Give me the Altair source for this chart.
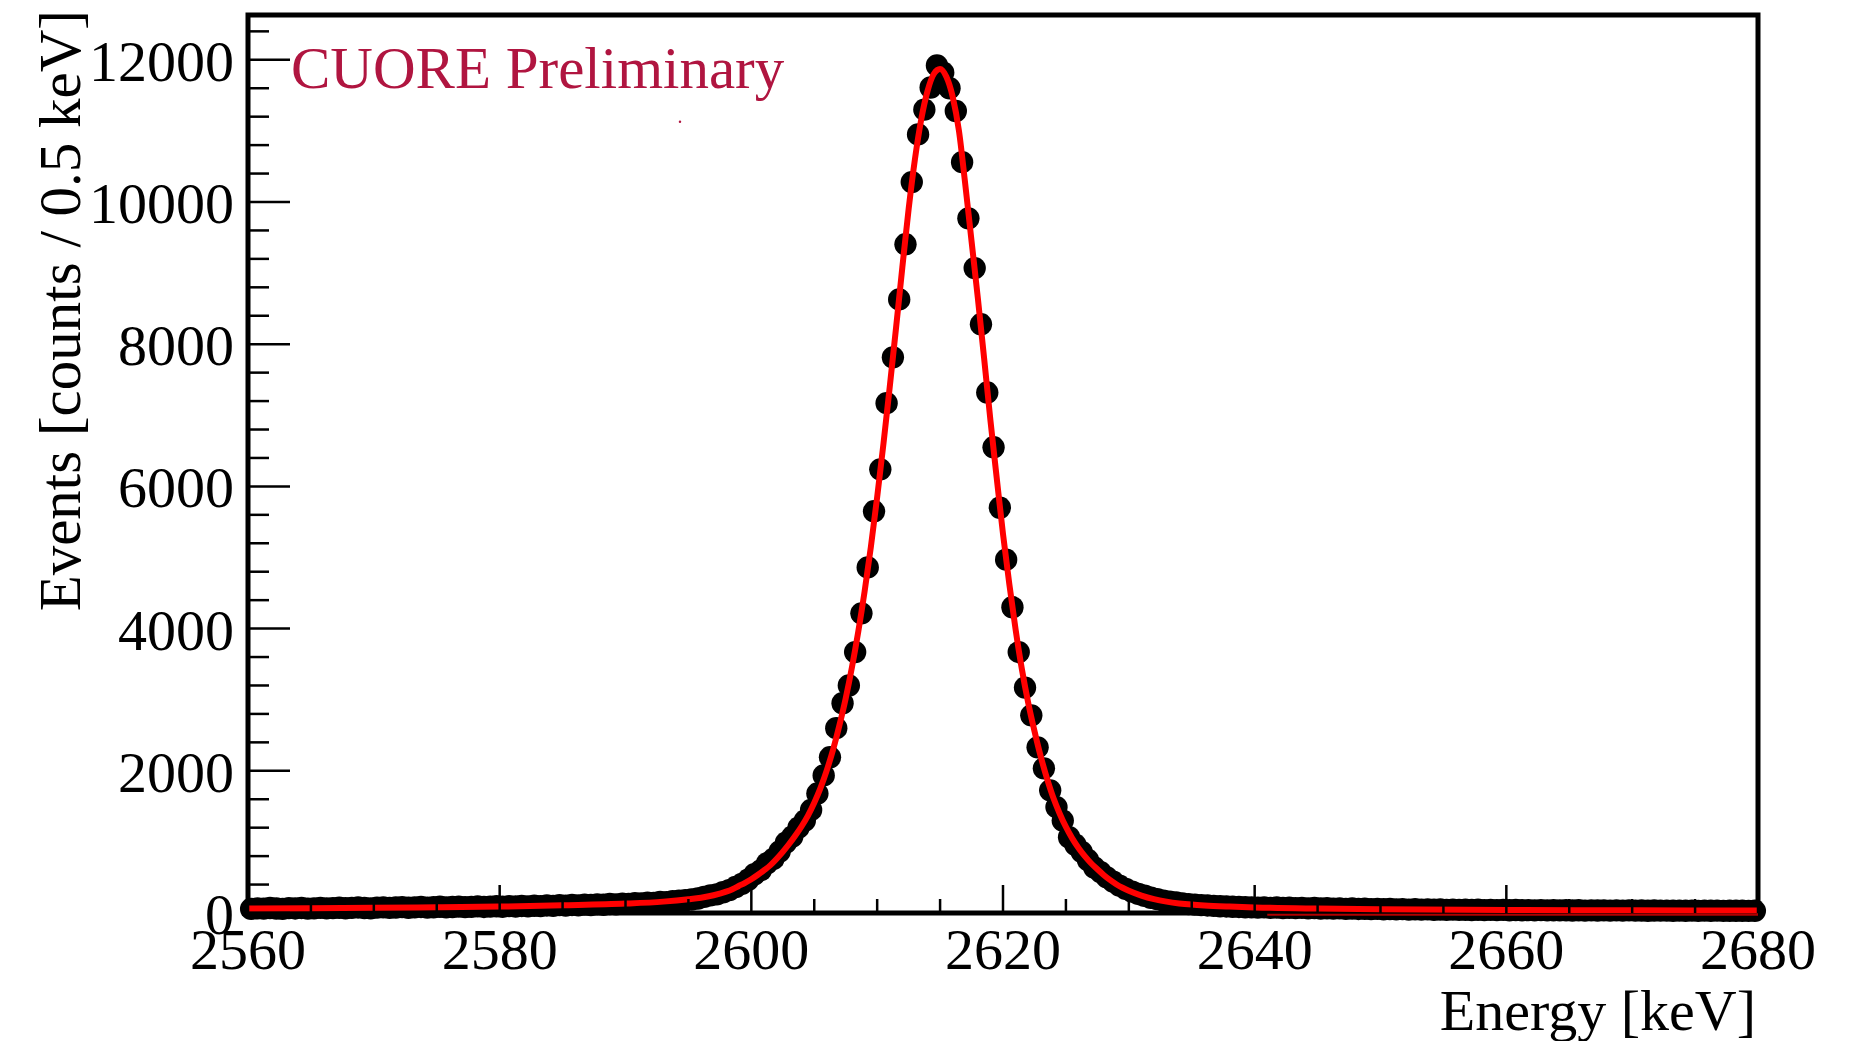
import altair as alt
import pandas as pd

FONT = "Liberation Serif"

# ---- histogram (0.5 keV bins from 2560 to 2680 keV) ----
bin_lo = 2560.0
bin_w = 0.5
counts = [
    # 2560.25 - 2579.75
    58, 66, 61, 70, 63, 59, 68, 64, 71, 62,
    66, 73, 65, 69, 74, 67, 72, 78, 70, 66,
    75, 80, 72, 77, 83, 74, 79, 85, 76, 81,
    88, 79, 84, 90, 82, 86, 93, 85, 89, 95,
    # 2580.25 - 2589.75
    88, 96, 91, 99, 94, 102, 97, 106, 100, 110,
    104, 113, 108, 118, 112, 121, 116, 126, 122, 131,
    # 2590.25 - 2595.75
    128, 138, 135, 146, 142, 155, 152, 166, 172, 180, 190, 204,
    # 2596.25 - 2599.75
    226, 248, 262, 292, 322, 365, 410, 468,
    # 2600.25 - 2604.75
    545, 600, 700, 760, 865, 990, 1075, 1200, 1300, 1450,
    # 2605.25 - 2609.75
    1680, 1935, 2190, 2600, 2950, 3200, 3670, 4215, 4860, 5650,
    # 2610.25 - 2614.75
    6240, 7170, 7815, 8630, 9405, 10280, 10950, 11300, 11610, 11920,
    # 2615.25 - 2619.75
    11820, 11600, 11280, 10560, 9770, 9070, 8280, 7320, 6550, 5700,
    # 2620.25 - 2624.75
    4970, 4300, 3670, 3170, 2780, 2330, 2035, 1725, 1490, 1300,
    # 2625.25 - 2629.75
    1065, 960, 860, 745, 640, 575, 500, 440, 385, 340,
    # 2630.25 - 2634.75
    300, 268, 242, 214, 196, 174, 160, 148, 136, 125,
    # 2635.25 - 2639.75
    118, 110, 106, 100, 95, 92, 88, 85, 81, 79,
    # 2640.25 - 2649.75
    76, 80, 73, 77, 70, 74, 68, 72, 66, 70,
    63, 67, 61, 65, 59, 63, 57, 60, 55, 58,
    # 2650.25 - 2659.75
    52, 56, 50, 54, 48, 52, 47, 50, 45, 49,
    44, 47, 43, 46, 42, 45, 41, 44, 40, 43,
    # 2660.25 - 2669.75
    39, 42, 38, 41, 37, 40, 36, 39, 36, 38,
    35, 38, 34, 37, 35, 37, 33, 36, 34, 36,
    # 2670.25 - 2679.75
    33, 35, 32, 35, 33, 34, 31, 34, 32, 33,
    30, 33, 31, 33, 30, 32, 31, 32, 29, 31,
]
energy = [bin_lo + bin_w * (i + 0.5) for i in range(len(counts))]

# ---- fitted curve ----
fit_e = [2560, 2565, 2570, 2575, 2580, 2585, 2590, 2593, 2595, 2596, 2597, 2598,
         2598.5, 2599, 2599.5, 2600, 2600.5, 2601, 2601.5, 2602, 2602.5, 2603,
         2603.5, 2604, 2604.5, 2605, 2605.5, 2606, 2606.5, 2607, 2607.5, 2608,
         2608.5, 2609, 2609.5, 2610, 2610.5, 2611, 2611.5, 2612, 2612.5, 2613,
         2613.5, 2614, 2614.5, 2615, 2615.5, 2616, 2616.5, 2617, 2617.5, 2618,
         2618.5, 2619, 2619.5, 2620, 2620.5, 2621, 2621.5, 2622, 2622.5, 2623,
         2623.5, 2624, 2624.5, 2625, 2625.5, 2626, 2626.5, 2627, 2627.5, 2628,
         2628.5, 2629, 2629.5, 2630,
         2631, 2632, 2633, 2634, 2635, 2636,
         2638, 2640, 2645, 2650, 2660, 2670, 2680]
fit_y = [62, 67, 73, 80, 90, 108, 132, 160, 193, 215, 250, 300,
         335, 380, 425, 475, 535, 600, 670, 760, 860, 970,
         1090, 1220, 1370, 1550, 1760, 2010, 2300, 2640, 3020, 3460,
         3960, 4520, 5150, 5850, 6600, 7400, 8230, 9080, 9900, 10600,
         11160, 11560, 11800, 11870, 11760, 11480, 11000, 10250, 9450, 8650,
         7800, 6930, 6120, 5330, 4630, 3990, 3430, 2960, 2560, 2200,
         1890, 1620, 1400, 1210, 1050, 915, 800, 700, 615, 535,
         465, 405, 355, 312,
         245, 195, 160, 135, 118, 106,
         90, 78, 62, 52, 42, 37, 34]

# thin dark-red component along the bottom on the high-energy side
comp_e = [2641, 2680]
comp_y = [-25, -25]

# tiny stray speck near the label
speck_e = [2594.33]
speck_y = [11130]

# ---- axis ticks ----
x_major = [2560, 2580, 2600, 2620, 2640, 2660, 2680]
x_minor = [v for v in range(2565, 2680, 5) if v % 20 != 0]
y_major = [0, 2000, 4000, 6000, 8000, 10000, 12000]
y_minor = [v for v in range(400, 12600, 400) if v % 2000 != 0]

W, H = 1510, 898
xs = alt.Scale(domain=[2560, 2680], nice=False, zero=False)
ys = alt.Scale(domain=[0, 12630], nice=False, zero=False)

df_pts = pd.DataFrame({"E": energy, "N": counts})
df_fit = pd.DataFrame({"E": fit_e, "N": fit_y})
df_comp = pd.DataFrame({"E": comp_e, "N": comp_y})
df_speck = pd.DataFrame({"E": speck_e, "N": speck_y})
df_xmaj = pd.DataFrame({"v": x_major, "lab": [str(v) for v in x_major]})
df_xmin = pd.DataFrame({"v": x_minor})
df_ymaj = pd.DataFrame({"v": y_major, "lab": [str(v) for v in y_major]})
df_ymin = pd.DataFrame({"v": y_minor})

X = lambda f: alt.X(f, type="quantitative", scale=xs, axis=None)
Y = lambda f: alt.Y(f, type="quantitative", scale=ys, axis=None)

points = alt.Chart(df_pts).mark_circle(size=500, color="black", opacity=1).encode(
    x=X("E"), y=Y("N"))

fit = alt.Chart(df_fit).mark_line(color="#ff0000", strokeWidth=6,
                                  interpolate="monotone").encode(x=X("E"), y=Y("N"))

comp = alt.Chart(df_comp).mark_line(color="#b00000", strokeWidth=2).encode(
    x=X("E"), y=Y("N"))

speck = alt.Chart(df_speck).mark_circle(size=6, color="#b01540", opacity=1).encode(
    x=X("E"), y=Y("N"))

xmaj = alt.Chart(df_xmaj).mark_rule(color="black", strokeWidth=2.5).encode(
    x=X("v"), y=alt.value(H), y2=alt.value(H - 28))
xmin = alt.Chart(df_xmin).mark_rule(color="black", strokeWidth=2.5).encode(
    x=X("v"), y=alt.value(H), y2=alt.value(H - 14))
ymaj = alt.Chart(df_ymaj).mark_rule(color="black", strokeWidth=2.5).encode(
    y=Y("v"), x=alt.value(0), x2=alt.value(42))
ymin = alt.Chart(df_ymin).mark_rule(color="black", strokeWidth=2.5).encode(
    y=Y("v"), x=alt.value(0), x2=alt.value(21))

xlab = alt.Chart(df_xmaj).mark_text(font=FONT, fontSize=58, align="center",
                                    baseline="alphabetic", color="black").encode(
    x=X("v"), y=alt.value(H + 56), text="lab:N")
ylab = alt.Chart(df_ymaj).mark_text(font=FONT, fontSize=58, align="right",
                                    baseline="alphabetic", dy=21, color="black").encode(
    y=Y("v"), x=alt.value(-14), text="lab:N")

xtitle = alt.Chart(pd.DataFrame({"t": ["Energy [keV]"]})).mark_text(
    font=FONT, fontSize=58, align="right", baseline="alphabetic", color="black").encode(
    x=alt.value(W - 2), y=alt.value(H + 117), text="t:N")
ytitle = alt.Chart(pd.DataFrame({"t": ["Events [counts / 0.5 keV]"]})).mark_text(
    font=FONT, fontSize=59, align="right", baseline="alphabetic", angle=270,
    color="black").encode(
    x=alt.value(-168), y=alt.value(-5), text="t:N")
label = alt.Chart(pd.DataFrame({"t": ["CUORE Preliminary"]})).mark_text(
    font=FONT, fontSize=59, align="left", baseline="alphabetic", color="#b01540").encode(
    x=alt.value(43), y=alt.value(73), text="t:N")

chart = alt.layer(
    points, fit, comp, speck, xmin, xmaj, ymin, ymaj, xlab, ylab, xtitle, ytitle, label
).properties(
    width=W, height=H,
    autosize=alt.AutoSizeParams(type="none"),
    padding={"left": 248, "top": 15, "right": 105, "bottom": 128},
    background="white",
).configure_view(stroke="black", strokeWidth=5)

chart.save("out.html", embed_options={"renderer": "svg", "actions": False})
